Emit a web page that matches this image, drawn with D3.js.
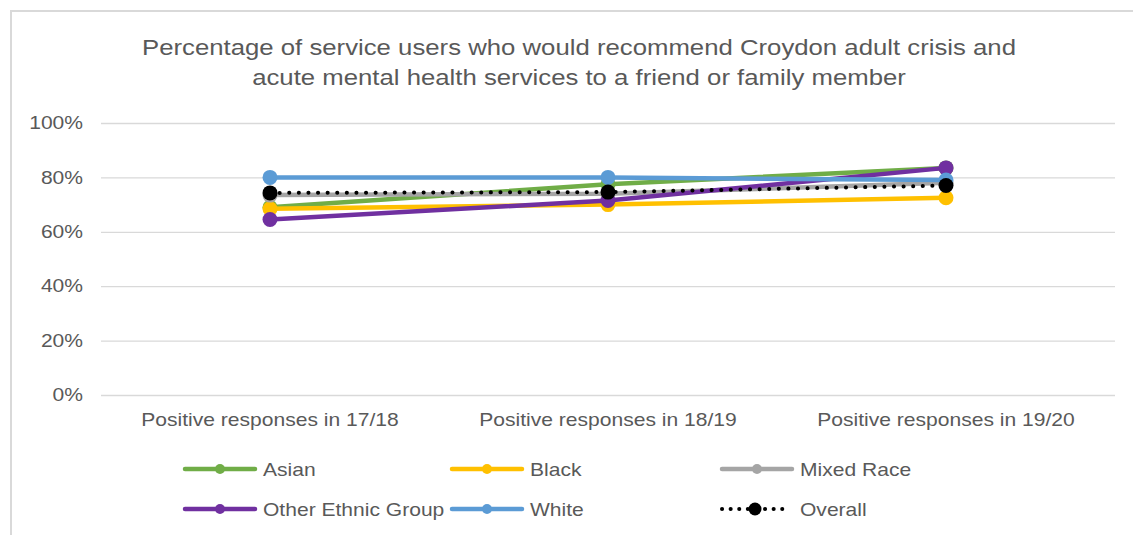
<!DOCTYPE html>
<html>
<head>
<meta charset="utf-8">
<script src="https://cdn.jsdelivr.net/npm/d3@7"></script>
<style>
  html, body { margin: 0; padding: 0; background: #fff; }
  svg { display: block; font-family: "Liberation Sans", Arial, sans-serif; }
</style>
</head>
<body>
<svg id="chart" width="1133" height="535"></svg>
<script>
// Survey periods along the x axis
const categories = ["Positive responses in 17/18", "Positive responses in 18/19", "Positive responses in 19/20"];

// Share of positive responses (%) per ethnic group
const asian      = [69, 77.5, 83.5];
const black      = [68.5, 70, 72.5];
const mixedRace  = [73.5, 74, 78];
const otherGroup = [64.5, 71.5, 83.5];
const white      = [80, 80, 79];
const overall    = [74.3, 74.6, 77];

const seriesNames = ["Asian", "Black", "Mixed Race", "Other Ethnic Group", "White", "Overall"];
const yTicks = [0, 20, 40, 60, 80, 100];

const series = [
  { name: seriesNames[0], values: asian,      color: "#70ad47" },
  { name: seriesNames[1], values: black,      color: "#ffc000" },
  { name: seriesNames[2], values: mixedRace,  color: "#a5a5a5" },
  { name: seriesNames[3], values: otherGroup, color: "#7030a0" },
  { name: seriesNames[4], values: white,      color: "#5b9bd5" },
  { name: seriesNames[5], values: overall,    color: "#000000", dotted: true }
];

const svg = d3.select("#chart");
const textColor = "#595959";
const sx = 1.17;          // horizontal stretch of the lettering
const labelSize = 18;

// Places a horizontally widened text at (x, y)
function wideText(parent, x, y, str, size, anchor) {
  return parent.append("g")
    .attr("transform", `translate(${x},${y}) scale(${sx},1)`)
    .append("text")
    .attr("text-anchor", anchor || "start")
    .attr("fill", textColor)
    .attr("font-size", size)
    .text(str);
}

// Chart frame
svg.append("rect")
  .attr("x", 11).attr("y", 11)
  .attr("width", 1140).attr("height", 540)
  .attr("fill", "#fff")
  .attr("stroke", "#d9d9d9").attr("stroke-width", 2);

// Title
wideText(svg, 579, 55, "Percentage of service users who would recommend Croydon adult crisis and", 22, "middle");
wideText(svg, 579, 85, "acute mental health services to a friend or family member", 22, "middle");

const plot = { left: 101, right: 1115, top: 123, bottom: 395 };

const x = d3.scaleBand().domain(categories).range([plot.left, plot.right]);
const y = d3.scaleLinear().domain([0, 100]).range([plot.bottom, plot.top]);
const cx = c => x(c) + x.bandwidth() / 2;

// Gridlines and y labels
const yAxis = d3.axisLeft(y).tickValues(yTicks)
  .tickSize(-(plot.right - plot.left)).tickPadding(18)
  .tickFormat(d => d + "%");
const gy = svg.append("g").attr("transform", `translate(${plot.left},0)`).call(yAxis);
gy.select(".domain").remove();
gy.selectAll(".tick line").attr("stroke", "#d9d9d9").attr("stroke-width", 1.3);
gy.selectAll(".tick text")
  .attr("x", -18 / sx)
  .attr("transform", `scale(${sx},1)`)
  .attr("fill", textColor).attr("font-size", labelSize)
  .attr("font-family", "Liberation Sans, Arial, sans-serif");

// Category labels
const xAxis = d3.axisBottom(x).tickSize(0).tickPadding(18);
const gx = svg.append("g").attr("transform", `translate(0,${plot.bottom})`).call(xAxis);
gx.select(".domain").remove();
gx.selectAll(".tick text")
  .attr("transform", `scale(${sx},1)`)
  .attr("fill", textColor).attr("font-size", labelSize)
  .attr("font-family", "Liberation Sans, Arial, sans-serif");

// Lines and markers
const line = d3.line().x((d, i) => cx(categories[i])).y(d => y(d));

series.forEach(s => {
  const g = svg.append("g");
  g.append("path")
    .attr("d", line(s.values))
    .attr("fill", "none")
    .attr("stroke", s.color)
    .attr("stroke-width", s.dotted ? 4 : 4.5)
    .attr("stroke-linecap", "round")
    .attr("stroke-dasharray", s.dotted ? "0.1 9.5" : null);
  g.selectAll("circle").data(s.values).join("circle")
    .attr("cx", (d, i) => cx(categories[i]))
    .attr("cy", d => y(d))
    .attr("r", 7.5)
    .attr("fill", s.color);
});

// Legend
const legendCols = [185, 452, 722];
const legendRows = [469, 509];
series.forEach((s, k) => {
  const lx = legendCols[k % 3];
  const ly = legendRows[Math.floor(k / 3)];
  const len = s.dotted ? 66 : 70;
  const g = svg.append("g");
  g.append("line")
    .attr("x1", lx).attr("x2", lx + len)
    .attr("y1", ly).attr("y2", ly)
    .attr("stroke", s.color)
    .attr("stroke-width", s.dotted ? 4 : 4.5)
    .attr("stroke-linecap", "round")
    .attr("stroke-dasharray", s.dotted ? "0.1 8.5" : null);
  g.append("circle")
    .attr("cx", lx + len / 2).attr("cy", ly)
    .attr("r", s.dotted ? 6.5 : 5)
    .attr("fill", s.color);
  wideText(g, lx + 78, ly + 6.5, s.name, labelSize);
});
</script>
</body>
</html>
